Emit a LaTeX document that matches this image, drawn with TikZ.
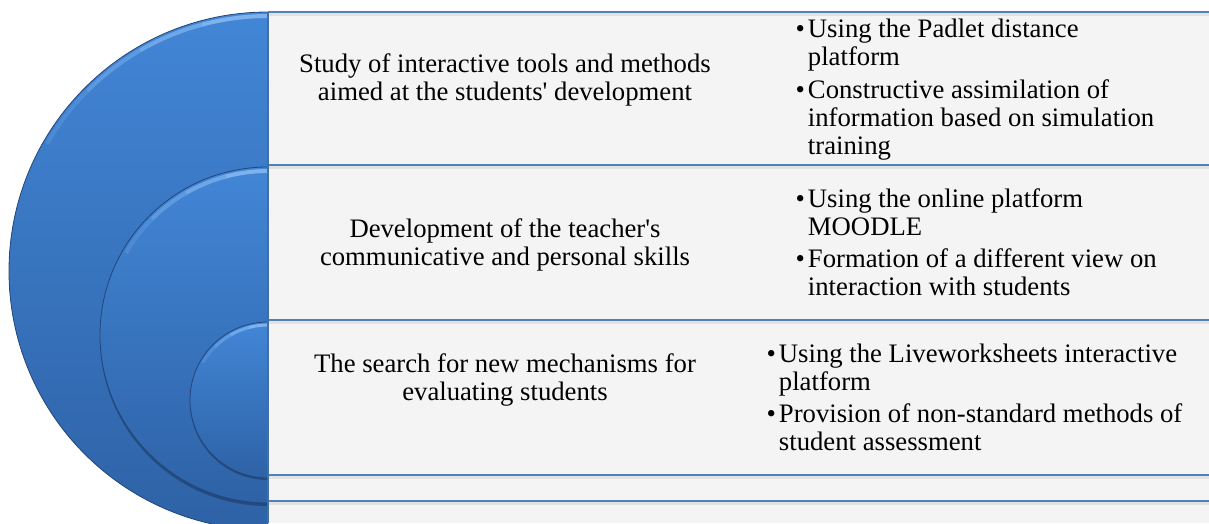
\documentclass[tikz,border=0pt]{standalone}
\usepackage{fontspec}
\setmainfont{Liberation Serif}
\definecolor{blueTop}{RGB}{66,134,214}
\definecolor{blueBot}{RGB}{46,98,166}
\definecolor{blueEdge}{RGB}{34,70,122}
\definecolor{rimLight}{RGB}{140,190,245}
\definecolor{lineBlue}{RGB}{79,129,189}
\definecolor{rowBg}{RGB}{244,244,244}
\newcommand{\bul}{\llap{\textbullet\hspace{3pt}}}
\tikzset{
  lefttext/.style={anchor=base, align=center, inner sep=0.75pt, font=\fontsize{26.7}{27.5}\selectfont},
  righttext/.style={anchor=base west, align=left, inner sep=0.75pt, font=\fontsize{26.7}{28}\selectfont},
  rowline/.style={draw=lineBlue, line width=1.6pt},
  halfdisc/.style={top color=blueTop, bottom color=blueBot, draw=blueEdge, line width=0.8pt},
}
\begin{document}
\begin{tikzpicture}[x=1pt,y=1pt,yscale=-1,xscale=1]
\useasboundingbox (0,0) rectangle (1209,523);

%Shape: Rectangle [id:rowsBack]
\fill[rowBg] (268,12) rectangle (1209,523);

%Shape: Half discs [id:discs]
\begin{scope}
\clip (0,0) rectangle (268,523);
\shade[halfdisc] (268,271) circle [radius=259];
\foreach \a/\o in {270/0.8,255/0.6,240/0.4,225/0.2}
  \draw[rimLight, line width=4pt, opacity=\o] (268,271) ++(\a:255) arc [start angle=\a, end angle=\a-15, radius=255];
\fill[black, opacity=0.25] (268,338) circle [radius=168];
\shade[halfdisc] (268,335) circle [radius=168];
\foreach \a/\o in {270/0.8,255/0.6,240/0.4,225/0.2}
  \draw[rimLight, line width=4pt, opacity=\o] (268,335) ++(\a:164) arc [start angle=\a, end angle=\a-15, radius=164];
\fill[black, opacity=0.25] (268,402) circle [radius=78];
\shade[halfdisc] (268,400) circle [radius=78];
\foreach \a/\o in {270/0.8,255/0.6,240/0.4,225/0.2}
  \draw[rimLight, line width=3pt, opacity=\o] (268,400) ++(\a:75) arc [start angle=\a, end angle=\a-15, radius=75];
\end{scope}

%Straight Lines [id:rowLines]
\foreach \y in {12,165,320,475,501}{
  \draw[black, opacity=0.07, line width=3pt] (268,\y+2.5) -- (1209,\y+2.5);
  \draw[rowline] (268,\y) -- (1209,\y);
}
\draw[lineBlue!85!black, line width=2pt] (268,12) -- (268,523);

% Text Node
\draw (505,100) node (studyTxt) [lefttext] {Study of interactive tools and methods\\aimed at the students\textquotesingle{} development};
% Text Node
\draw (807,154) node (padletTxt) [righttext] {\bul Using the Padlet distance\\platform\\[5pt]\bul Constructive assimilation of\\information based on simulation\\training};
% Text Node
\draw (505,265) node (teacherTxt) [lefttext] {Development of the teacher\textquotesingle{}s\\communicative and personal skills};
% Text Node
\draw (807,295) node (moodleTxt) [righttext] {\bul Using the online platform\\MOODLE\\[4pt]\bul Formation of a different view on\\interaction with students};
% Text Node
\draw (505,400) node (searchTxt) [lefttext] {The search for new mechanisms for\\evaluating students};
% Text Node
\draw (778,450) node (liveTxt) [righttext] {\bul Using the Liveworksheets interactive\\platform\\[4pt]\bul Provision of non-standard methods of\\student assessment};
\end{tikzpicture}
\end{document}
